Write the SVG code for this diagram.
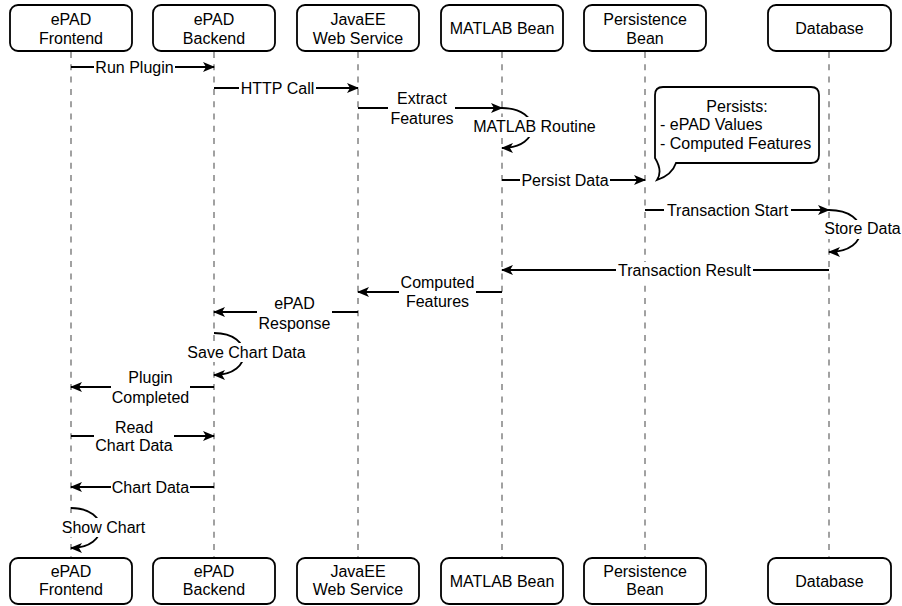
<svg xmlns="http://www.w3.org/2000/svg" width="902" height="606" viewBox="0 0 902 606">
<style>
  text { font-family: "Liberation Sans", Arial, Helvetica, sans-serif; font-size: 16px; fill: #000; }
  .c { text-anchor: middle; }
  .box { fill: #fff; stroke: #000; stroke-width: 1.8; }
  .life { stroke: #8a8a8a; stroke-width: 1.6; stroke-dasharray: 6 6.3; fill: none; }
  .msg { stroke: #000; stroke-width: 1.8; fill: none; marker-end: url(#arr); }
  .bg { fill: #fff; stroke: none; }
</style>
<defs>
  <marker id="arr" viewBox="0 0 12 10" refX="11" refY="5" markerWidth="12" markerHeight="10" orient="auto" markerUnits="userSpaceOnUse">
    <path d="M0,0 L12,5 L0,10 L3,5 Z" fill="#000"/>
  </marker>
</defs>
<rect width="902" height="606" fill="#fff"/>

<g id="lifelines">
  <line class="life" x1="71" y1="52" x2="71" y2="558"/>
  <line class="life" x1="214" y1="52" x2="214" y2="558"/>
  <line class="life" x1="358" y1="52" x2="358" y2="558"/>
  <line class="life" x1="502" y1="52" x2="502" y2="558"/>
  <line class="life" x1="645" y1="52" x2="645" y2="558"/>
  <line class="life" x1="829" y1="52" x2="829" y2="558"/>
</g>

<g id="connectors">
  <path class="msg" d="M71 67 H214"/>
  <path class="msg" d="M214 88 H358"/>
  <path class="msg" d="M358 108 H502"/>
  <path class="msg" d="M502 108 C542 108 542 148 502 148"/>
  <path class="msg" d="M502 180 H645"/>
  <path class="msg" d="M645 210 H829"/>
  <path class="msg" d="M829 210 C871 210 871 252 829 252"/>
  <path class="msg" d="M829 270 H502"/>
  <path class="msg" d="M502 292 H358"/>
  <path class="msg" d="M358 312 H214"/>
  <path class="msg" d="M214 333 C254 333 254 375 214 375"/>
  <path class="msg" d="M214 387 H71"/>
  <path class="msg" d="M71 436 H214"/>
  <path class="msg" d="M214 487 H71"/>
  <path class="msg" d="M71 508 C110 508 110 548 71 548"/>

  <g id="lbl-run-plugin"><rect class="bg" x="94" y="59" width="81" height="17"/><text class="c" x="134.5" y="72.5">Run Plugin</text></g>
  <g id="lbl-http-call"><rect class="bg" x="239" y="80" width="77" height="17"/><text class="c" x="277.5" y="93.5">HTTP Call</text></g>
  <g id="lbl-extract"><rect class="bg" x="388" y="92" width="67" height="35"/><text class="c" x="422" y="104">Extract</text><text class="c" x="422" y="123.5">Features</text></g>
  <g id="lbl-matlab-routine"><rect class="bg" x="471" y="117" width="127" height="20"/><text class="c" x="534.5" y="131.5">MATLAB Routine</text></g>
  <g id="lbl-persist-data"><rect class="bg" x="520" y="172" width="90" height="18"/><text class="c" x="565" y="185.5">Persist Data</text></g>
  <g id="lbl-tx-start"><rect class="bg" x="664" y="202" width="127" height="18"/><text class="c" x="727.5" y="215.5">Transaction Start</text></g>
  <g id="lbl-store-data"><rect class="bg" x="824" y="220" width="77" height="19"/><text class="c" x="862.5" y="234">Store Data</text></g>
  <g id="lbl-tx-result"><rect class="bg" x="616" y="262" width="137" height="18"/><text class="c" x="684.5" y="275.5">Transaction Result</text></g>
  <g id="lbl-computed"><rect class="bg" x="399" y="275" width="77" height="36"/><text class="c" x="437.5" y="287.5">Computed</text><text class="c" x="437.5" y="306.5">Features</text></g>
  <g id="lbl-epad-response"><rect class="bg" x="257" y="297" width="75" height="36"/><text class="c" x="294.5" y="309">ePAD</text><text class="c" x="294.5" y="328.5">Response</text></g>
  <g id="lbl-save-chart"><rect class="bg" x="186" y="343" width="121" height="19"/><text class="c" x="246.5" y="357.5">Save Chart Data</text></g>
  <g id="lbl-plugin-completed"><rect class="bg" x="111" y="371" width="79" height="36"/><text class="c" x="150.5" y="383">Plugin</text><text class="c" x="150.5" y="402.5">Completed</text></g>
  <g id="lbl-read-chart"><rect class="bg" x="94" y="420" width="80" height="35"/><text class="c" x="134" y="432.5">Read</text><text class="c" x="134" y="450.5">Chart Data</text></g>
  <g id="lbl-chart-data"><rect class="bg" x="111" y="479" width="79" height="18"/><text class="c" x="150.5" y="492.5">Chart Data</text></g>
  <g id="lbl-show-chart"><rect class="bg" x="60" y="518" width="87" height="19"/><text class="c" x="103.5" y="532.5">Show Chart</text></g>
</g>

<g id="note-persists">
  <path class="box" d="M663 87 H811 Q819 87 819 95 V155 Q819 163 811 163 H676 Q672 175 657 180 Q663 171 655 158 V95 Q655 87 663 87 Z"/>
  <text class="c" x="737" y="111.5">Persists:</text>
  <text x="660" y="130">- ePAD Values</text>
  <text x="660" y="148.5">- Computed Features</text>
</g>

<g id="epad-frontend">
  <rect class="box" x="10" y="5" width="122" height="46" rx="8"/>
  <text class="c" x="71" y="25">ePAD</text><text class="c" x="71" y="43.5">Frontend</text>
  <rect class="box" x="10" y="558" width="122" height="46" rx="8"/>
  <text class="c" x="71" y="576.5">ePAD</text><text class="c" x="71" y="594.5">Frontend</text>
</g>
<g id="epad-backend">
  <rect class="box" x="153" y="5" width="122" height="46" rx="8"/>
  <text class="c" x="214" y="25">ePAD</text><text class="c" x="214" y="43.5">Backend</text>
  <rect class="box" x="153" y="558" width="122" height="46" rx="8"/>
  <text class="c" x="214" y="576.5">ePAD</text><text class="c" x="214" y="594.5">Backend</text>
</g>
<g id="javaee-ws">
  <rect class="box" x="297" y="5" width="122" height="46" rx="8"/>
  <text class="c" x="358" y="25">JavaEE</text><text class="c" x="358" y="43.5">Web Service</text>
  <rect class="box" x="297" y="558" width="122" height="46" rx="8"/>
  <text class="c" x="358" y="576.5">JavaEE</text><text class="c" x="358" y="594.5">Web Service</text>
</g>
<g id="matlab-bean">
  <rect class="box" x="441" y="5" width="122" height="46" rx="8"/>
  <text class="c" x="502" y="34">MATLAB Bean</text>
  <rect class="box" x="441" y="558" width="122" height="46" rx="8"/>
  <text class="c" x="502" y="586.5">MATLAB Bean</text>
</g>
<g id="persistence-bean">
  <rect class="box" x="584" y="5" width="122" height="46" rx="8"/>
  <text class="c" x="645" y="25">Persistence</text><text class="c" x="645" y="43.5">Bean</text>
  <rect class="box" x="584" y="558" width="122" height="46" rx="8"/>
  <text class="c" x="645" y="576.5">Persistence</text><text class="c" x="645" y="594.5">Bean</text>
</g>
<g id="database">
  <rect class="box" x="768" y="5" width="123" height="46" rx="8"/>
  <text class="c" x="829.5" y="34">Database</text>
  <rect class="box" x="768" y="558" width="123" height="46" rx="8"/>
  <text class="c" x="829.5" y="586.5">Database</text>
</g>
</svg>
